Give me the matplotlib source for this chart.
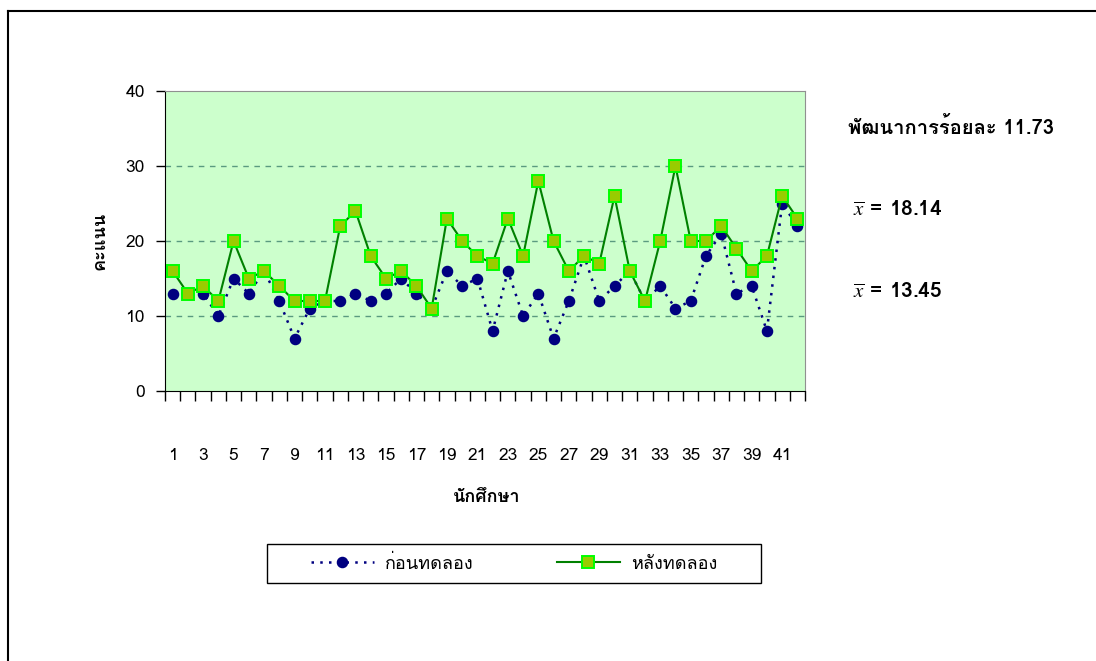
import matplotlib
matplotlib.use("Agg")
import matplotlib.pyplot as plt
from matplotlib import font_manager
from matplotlib.ft2font import FT2Font
from matplotlib.lines import Line2D
from matplotlib.patches import Rectangle


# find a font that can draw Thai
def thai_font():
    for f in font_manager.fontManager.ttflist:
        try:
            if ord('ก') in FT2Font(f.fname).get_charmap():
                return f.name
        except Exception:
            pass
    return None


th = thai_font()
if th:
    plt.rcParams['font.family'] = [th, 'DejaVu Sans']
plt.rcParams['mathtext.fontset'] = 'stix'

# data
students = list(range(1, 43))
before = [13, 13, 13, 10, 15, 13, 16, 12, 7, 11, 12, 12, 13, 12, 13, 15, 13, 11, 16, 14, 15,
          8, 16, 10, 13, 7, 12, 18, 12, 14, 16, 12, 14, 11, 12, 18, 21, 13, 14, 8, 25, 22]
after = [16, 13, 14, 12, 20, 15, 16, 14, 12, 12, 12, 22, 24, 18, 15, 16, 14, 11, 23, 20, 18,
         17, 23, 18, 28, 20, 16, 18, 17, 26, 16, 12, 20, 30, 20, 20, 22, 19, 16, 18, 26, 23]
label_before = "ก่อนทดลอง"
label_after = "หลังทดลอง"
gain_text = "พัฒนาการร้อยละ 11.73"
mean_after = "18.14"
mean_before = "13.45"

W, H = 1096, 661
fig = plt.figure(figsize=(W / 100, H / 100), dpi=100)
ax = fig.add_axes([165 / W, 1 - 391 / H, 640 / W, 300 / H])
ax.set_facecolor('#ccffcc')

ax.plot(students, before, color='#000080', linestyle=(0, (1, 2.5)), linewidth=1.8,
        marker='o', markersize=7.3, markerfacecolor='#000080', markeredgecolor='#000080',
        label=label_before, zorder=3)
ax.plot(students, after, color='#008000', linestyle='-', linewidth=1.5,
        marker='s', markersize=8.6, markerfacecolor='#99cc00', markeredgecolor='#00ff00',
        markeredgewidth=1.4, label=label_after, zorder=4)

ax.set_xlim(0.5, 42.5)
ax.set_ylim(0, 40)
ax.set_yticks([0, 10, 20, 30, 40])
ax.set_xticks(students[::2])
ax.set_xticks([i + 0.5 for i in range(0, 43)], minor=True)
ax.tick_params(axis='x', which='major', length=0, pad=41, labelsize=12.5)
ax.tick_params(axis='x', which='minor', length=7, width=1, direction='out')
ax.tick_params(axis='y', length=6.5, width=1, pad=8, labelsize=12.5)

for y in [10, 20, 30]:
    ax.axhline(y, color='#5a9a80', linestyle=(0, (4, 4)), linewidth=1, zorder=1)

ax.spines['left'].set_color('black')
ax.spines['bottom'].set_color('black')
ax.spines['top'].set_color('#909090')
ax.spines['right'].set_color('#909090')

fig.text(100 / W, 1 - 241 / H, "คะแนน", rotation=90, ha='center', va='center',
         fontsize=13, fontweight='bold')
fig.text(487 / W, 1 - 497 / H, "นักศึกษา", ha='center', va='center',
         fontsize=13, fontweight='bold')

fig.text(848 / W, 1 - 127 / H, gain_text, ha='left', va='center', fontsize=14.5, fontweight='bold')
fig.text(853 / W, 1 - 210 / H, r'$\overline{x}$ = ' + mean_after, ha='left', va='center',
         fontsize=15, fontweight='bold')
fig.text(853 / W, 1 - 292 / H, r'$\overline{x}$ = ' + mean_before, ha='left', va='center',
         fontsize=15, fontweight='bold')

# legend box
fig.add_artist(Rectangle((267 / W, 1 - 583 / H), 494 / W, 39 / H, transform=fig.transFigure,
                         facecolor='white', edgecolor='black', linewidth=1))
fig.legend(loc='center', bbox_to_anchor=(514 / W, 1 - 563.5 / H), ncol=2, frameon=False,
           fontsize=13, handlelength=3.5, handletextpad=0.6, columnspacing=4.6)

# outer frame (top and left only)
fig.add_artist(Line2D([8 / W, 8 / W], [0, 1 - 11 / H], transform=fig.transFigure,
                      color='black', linewidth=1.5))
fig.add_artist(Line2D([8 / W, 1], [1 - 11 / H, 1 - 11 / H], transform=fig.transFigure,
                      color='black', linewidth=1.5))

fig.savefig('out.png', dpi=100)
